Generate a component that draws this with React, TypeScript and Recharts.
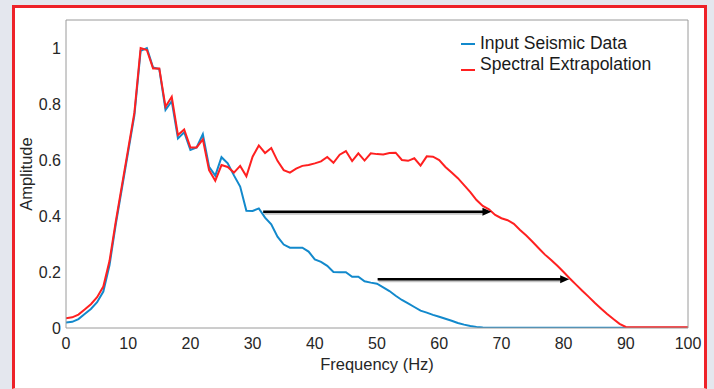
import { LineChart, Line, XAxis, YAxis, ReferenceLine, Legend } from 'recharts';

// Input seismic spectrum (blue)
const inputFreq = [
  0, 1, 2, 3, 4, 5, 6, 7, 8, 9, 10, 11, 12, 13, 14, 15, 16, 17, 18, 19, 20,
  21, 22, 23, 24, 25, 26, 27, 28, 29, 30, 31, 32, 33, 34, 35, 36, 37, 38, 39, 40,
  41, 42, 43, 44, 45, 46, 47, 48, 49, 50, 51, 52, 53, 54, 55, 56, 57, 58, 59, 60,
  61, 62, 63, 64, 65, 66, 67, 70, 80, 90, 100,
];
const inputAmp = [
  0.02, 0.022, 0.032, 0.05, 0.068, 0.092, 0.13, 0.225, 0.37, 0.5, 0.63, 0.76, 0.99, 1.0, 0.93, 0.925, 0.779, 0.81, 0.677, 0.699, 0.636,
  0.645, 0.692, 0.576, 0.544, 0.61, 0.588, 0.545, 0.505, 0.419, 0.418, 0.427, 0.394, 0.37, 0.326, 0.298, 0.287, 0.287, 0.287, 0.273, 0.245,
  0.236, 0.222, 0.2, 0.199, 0.199, 0.183, 0.183, 0.167, 0.162, 0.158, 0.145, 0.132, 0.115, 0.1, 0.088, 0.075, 0.062, 0.055, 0.047, 0.04,
  0.033, 0.026, 0.018, 0.012, 0.007, 0.004, 0.002, 0.001, 0.001, 0.001, 0.001,
];

// Spectral extrapolation (red)
const extrapFreq = [
  0, 1, 2, 3, 4, 5, 6, 7, 8, 9, 10, 11, 12, 13, 14, 15, 16, 17, 18, 19, 20,
  21, 22, 23, 24, 25, 26, 27, 28, 29, 30, 31, 32, 33, 34, 35, 36, 37, 38, 39, 40,
  41, 42, 43, 44, 45, 46, 47, 48, 49, 50, 51, 52, 53, 54, 55, 56, 57, 58, 59, 60,
  61, 62, 63, 64, 65, 66, 67, 68, 69, 70, 71, 72, 73, 74, 75, 76, 77, 78, 79, 80,
  81, 82, 83, 84, 85, 86, 87, 88, 89, 90, 95, 100,
];
const extrapAmp = [
  0.035, 0.038, 0.048, 0.066, 0.085, 0.11, 0.148, 0.24, 0.38, 0.51, 0.64, 0.77, 1.0, 0.993, 0.927, 0.927, 0.79, 0.826, 0.689, 0.709, 0.645,
  0.645, 0.674, 0.564, 0.526, 0.582, 0.575, 0.555, 0.579, 0.542, 0.612, 0.652, 0.625, 0.643, 0.597, 0.564, 0.555, 0.569, 0.579, 0.582, 0.588,
  0.595, 0.611, 0.59, 0.619, 0.632, 0.596, 0.624, 0.598, 0.624, 0.621, 0.62, 0.625, 0.626, 0.6, 0.597, 0.606, 0.58, 0.613, 0.612, 0.6,
  0.575, 0.555, 0.535, 0.51, 0.485, 0.457, 0.436, 0.424, 0.404, 0.392, 0.385, 0.372, 0.35, 0.33, 0.308, 0.285, 0.262, 0.243, 0.222, 0.2,
  0.177, 0.155, 0.133, 0.112, 0.09, 0.07, 0.05, 0.032, 0.015, 0.004, 0.003, 0.003,
];

const xTicks = [0, 10, 20, 30, 40, 50, 60, 70, 80, 90, 100];
const yTicks = [0, 0.2, 0.4, 0.6, 0.8, 1];

// horizontal annotation arrows
const arrowFrom = [31.7, 50.1];
const arrowTo = [68.4, 80.9];
const arrowLevel = [0.415, 0.174];

const seriesNames = ['Input Seismic Data', 'Spectral Extrapolation'];
const seriesColors = ['#1289cc', '#ff2020'];

const FONT = '"Liberation Sans", Arial, sans-serif';
const AXIS = '#9a9a9a';
const TEXT = '#262626';

const inputData = inputFreq.map((f, i) => ({ f, a: inputAmp[i] }));
const extrapData = extrapFreq.map((f, i) => ({ f, a: extrapAmp[i] }));

const Arrow = (props: any) => {
  const { x1, y1, x2, y2 } = props;
  const head = 9;
  return (
    <g>
      <line x1={x1 + 1} y1={y1 + 2} x2={x2 - head} y2={y2 + 2} stroke="#c4c4c4" strokeWidth={2} />
      <line x1={x1} y1={y1} x2={x2 - head + 1} y2={y2} stroke="#000" strokeWidth={2.5} />
      <polygon points={`${x2},${y2} ${x2 - head},${y2 - 4} ${x2 - head},${y2 + 4}`} fill="#000" />
    </g>
  );
};

const renderLegend = () => (
  <div style={{ fontFamily: FONT, fontSize: 17.5, color: '#1a1a1a', lineHeight: '21px', whiteSpace: 'nowrap' }}>
    {seriesNames.map((name, i) => (
      <div key={name} style={{ display: 'flex', alignItems: 'center', height: 21 }}>
        <span
          style={{
            display: 'inline-block',
            width: 14,
            height: 2,
            background: seriesColors[i],
            marginRight: 5,
            position: 'relative',
            top: i === 1 ? 5 : 0,
          }}
        />
        <span>{name}</span>
      </div>
    ))}
  </div>
);

export default function App() {
  return (
    <div style={{ position: 'absolute', left: 0, top: 0, width: 714, height: 389, background: '#e4e7ee', overflow: 'hidden' }}>
      <div
        style={{
          position: 'absolute',
          left: 12,
          top: 5,
          width: 689,
          height: 380,
          background: '#fff',
          borderLeft: '3px solid #ee2229',
          borderRight: '3px solid #ee2229',
          borderTop: '3px solid #ee2229',
          borderBottom: '1px solid #f6c4c8',
        }}
      />
      <div style={{ position: 'absolute', left: 0, top: 0 }}>
        <LineChart width={714} height={389} margin={{ top: 20, right: 26, bottom: 0, left: 0 }}>
          <XAxis
            xAxisId="b"
            dataKey="f"
            type="number"
            domain={[0, 100]}
            ticks={xTicks}
            allowDataOverflow
            height={61}
            tickLine={false}
            axisLine={false}
            tickSize={0}
            tickMargin={10}
            tick={{ fill: TEXT, fontSize: 16, fontFamily: FONT }}
            label={{ value: 'Frequency (Hz)', position: 'insideBottom', offset: 19, fill: TEXT, fontSize: 16.5, fontFamily: FONT }}
          />
          <XAxis
            xAxisId="bm"
            type="number"
            domain={[0, 100]}
            ticks={xTicks}
            allowDataOverflow
            orientation="bottom"
            mirror
            tick={false}
            tickSize={6}
            tickLine={{ stroke: AXIS }}
            axisLine={{ stroke: AXIS }}
          />
          <XAxis
            xAxisId="tm"
            type="number"
            domain={[0, 100]}
            ticks={xTicks}
            allowDataOverflow
            orientation="top"
            mirror
            tick={false}
            tickSize={6}
            tickLine={{ stroke: AXIS }}
            axisLine={{ stroke: AXIS }}
          />
          <YAxis
            yAxisId="l"
            type="number"
            domain={[0, 1.1]}
            ticks={yTicks}
            allowDataOverflow
            width={66}
            tickLine={false}
            axisLine={false}
            tickSize={0}
            tickMargin={5}
            tick={{ fill: TEXT, fontSize: 16, fontFamily: FONT }}
            label={{ value: 'Amplitude', angle: -90, position: 'insideLeft', offset: 26, fill: TEXT, fontSize: 16.5, fontFamily: FONT, style: { textAnchor: 'middle' } }}
          />
          <YAxis
            yAxisId="lm"
            type="number"
            domain={[0, 1.1]}
            ticks={yTicks}
            allowDataOverflow
            orientation="left"
            mirror
            tick={false}
            tickSize={6}
            tickLine={{ stroke: AXIS }}
            axisLine={{ stroke: AXIS }}
          />
          <YAxis
            yAxisId="rm"
            type="number"
            domain={[0, 1.1]}
            ticks={yTicks}
            allowDataOverflow
            orientation="right"
            mirror
            tick={false}
            tickSize={6}
            tickLine={{ stroke: AXIS }}
            axisLine={{ stroke: AXIS }}
          />
          <Line
            xAxisId="b"
            yAxisId="l"
            data={inputData}
            dataKey="a"
            type="linear"
            stroke={seriesColors[0]}
            strokeWidth={2}
            dot={false}
            activeDot={false}
            isAnimationActive={false}
            name={seriesNames[0]}
          />
          <Line
            xAxisId="b"
            yAxisId="l"
            data={extrapData}
            dataKey="a"
            type="linear"
            stroke={seriesColors[1]}
            strokeWidth={2}
            dot={false}
            activeDot={false}
            isAnimationActive={false}
            name={seriesNames[1]}
          />
          {arrowLevel.map((lvl, i) => (
            <ReferenceLine
              key={i}
              xAxisId="b"
              yAxisId="l"
              segment={[
                { x: arrowFrom[i], y: lvl },
                { x: arrowTo[i], y: lvl },
              ]}
              shape={Arrow}
            />
          ))}
          <Legend
            layout="vertical"
            align="center"
            verticalAlign="middle"
            content={renderLegend}
            wrapperStyle={{ left: 461, top: 33, width: 'auto' }}
          />
        </LineChart>
      </div>
    </div>
  );
}
